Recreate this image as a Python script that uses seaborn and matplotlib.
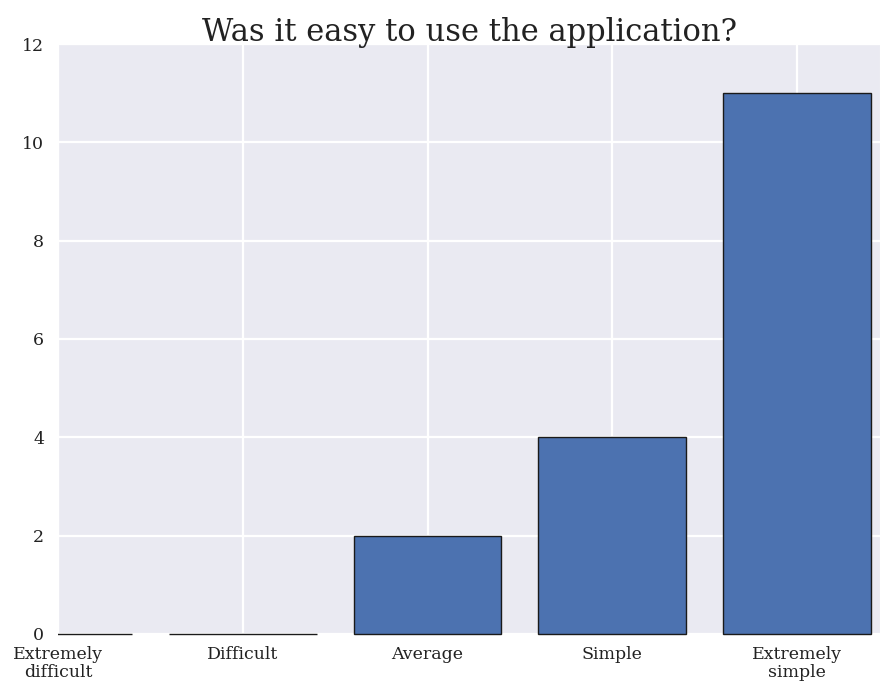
import matplotlib
matplotlib.use("Agg")
import matplotlib.pyplot as plt
import pandas as pd
import seaborn as sns
from matplotlib.patches import Rectangle

answers = ["Extremely\ndifficult", "Difficult", "Average", "Simple", "Extremely\nsimple"]
counts = [0, 0, 2, 4, 11]
yticks = [0, 2, 4, 6, 8, 10, 12]

sns.set_style("darkgrid")
plt.rcParams["font.family"] = ["DejaVu Serif"]

df = pd.DataFrame({"answer": answers, "count": counts})

fig = plt.figure(figsize=(8.81, 6.89), dpi=100)
ax = fig.add_axes([0.066, 0.080, 0.933, 0.856])
sns.barplot(
    data=df,
    x="answer",
    y="count",
    order=answers,
    color="#4C72B0",
    saturation=1,
    width=0.8,
    edgecolor="#1a1a1a",
    linewidth=1,
    ax=ax,
)
# zero-height bars still show their outline on the baseline:
# clip to the axes sideways but let the outline spill below
clip = Rectangle((0, -0.02), 1, 1.04, transform=ax.transAxes)
for patch in ax.patches:
    patch.set_clip_path(clip)
    patch.set_zorder(3)

ax.set_xlim(0, 4.45)
ax.set_ylim(0, 12)
ax.set_yticks(yticks)
ax.xaxis.grid(True)
ax.grid(True, color="white", linewidth=1.6)
ax.set_axisbelow(True)
ax.set_xlabel("")
ax.set_ylabel("")
ax.tick_params(labelsize=12.5, colors="#222222", length=0)
ax.tick_params(axis="x", pad=9)
ax.tick_params(axis="y", pad=10)
for lab in ax.get_xticklabels():
    lab.set_linespacing(1.05)
ax.set_title("Was it easy to use the application?", fontsize=22, color="#222222", pad=2)

fig.savefig("out.png", dpi=100)
